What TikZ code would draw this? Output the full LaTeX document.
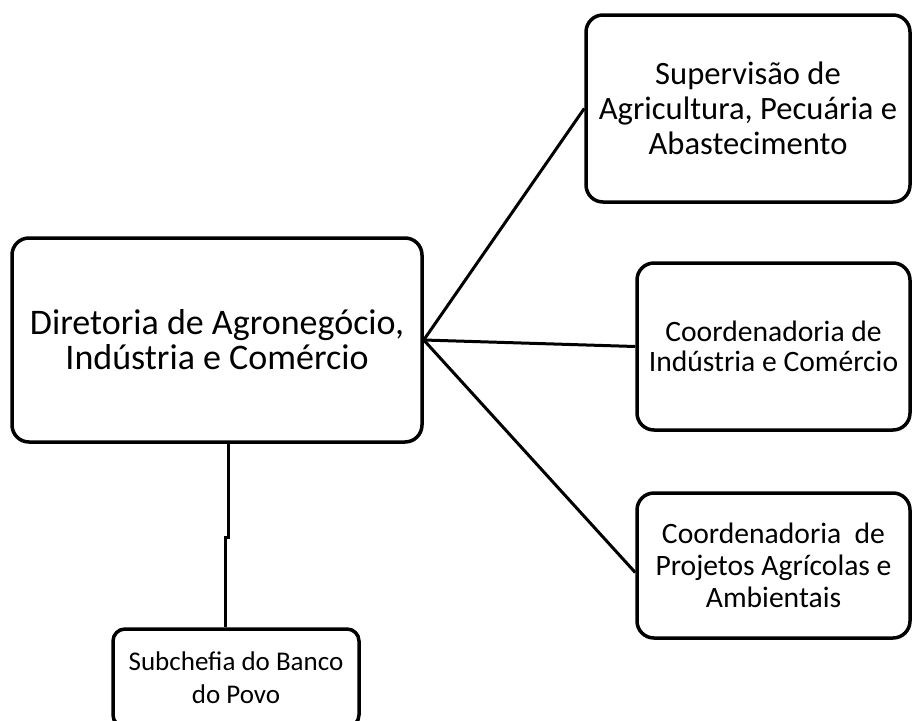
\documentclass[tikz,border=0pt]{standalone}
\usepackage{fontspec}
\setmainfont{Carlito}
\begin{document}
\begin{tikzpicture}[x=1pt,y=-1pt,
	caixa/.style={draw,line width=3.5pt,rounded corners=17pt,align=center,inner sep=0pt},
	ligacao/.style={line width=3pt}]
\useasboundingbox (0,0) rectangle (912,720);
% caixas
\node[caixa,minimum width=410,minimum height=204,font=\fontsize{36}{35}\selectfont] (dir) at (217,340) {Diretoria de Agronegócio,\\Indústria e Comércio};
\node[caixa,minimum width=324,minimum height=187,font=\fontsize{32.6}{35}\selectfont] (sup) at (748,108.5) {Supervisão de\\Agricultura, Pecuária e\\Abastecimento};
\node[caixa,minimum width=273,minimum height=167,font=\fontsize{29.6}{30.5}\selectfont] (ind) at (773.5,346.5) {Coordenadoria de\\Indústria e Comércio};
\node[caixa,minimum width=273,minimum height=145,font=\fontsize{29.6}{31.7}\selectfont] (proj) at (773.5,565.5) {Coordenadoria\ \ de\\Projetos Agrícolas e\\Ambientais};
\node[caixa,rounded corners=12pt,minimum width=246,minimum height=98,font=\fontsize{27}{33}\selectfont] (sub) at (236,678) {Subchefia do Banco\\do Povo};
% ligacoes
\foreach \alvo/\dy in {sup/0,ind/0,proj/-7} {
	\draw[ligacao] (dir.east) -- ([yshift=\dy pt]\alvo.west);
}
\coordinate (jog) at (228,537);
\draw[ligacao] ([xshift=11pt]dir.south) -- (jog) -- ++(-3,0) -- ([xshift=-11pt]sub.north);
\end{tikzpicture}
\end{document}
